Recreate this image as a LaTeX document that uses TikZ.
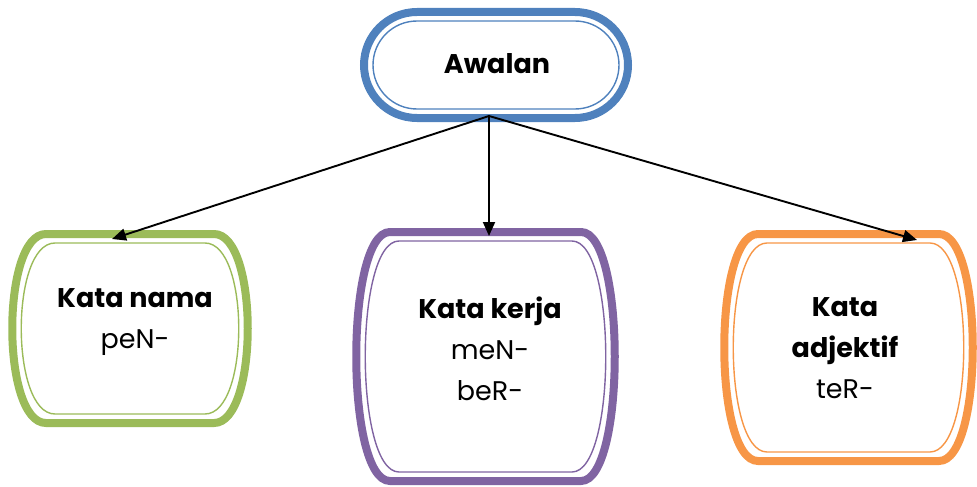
\documentclass[tikz,border=0pt]{standalone}
\usepackage{fontspec}
\setmainfont{Poppins}
\usetikzlibrary{arrows.meta}
\definecolor{cblue}{HTML}{4F81BD}
\definecolor{cgreen}{HTML}{9BBB59}
\definecolor{cpurple}{HTML}{8064A2}
\definecolor{corange}{HTML}{F79646}
\newcommand\barrelpath[4]{(#1+34,#2) -- (#3-34,#2) .. controls (#3+11,#2) and (#3+11,#4) .. (#3-34,#4) -- (#1+34,#4) .. controls (#1-11,#4) and (#1-11,#2) .. cycle}
\newcommand\barrelbox[5]{%
  \draw[line width=8pt,#5] \barrelpath{#1}{#2}{#3}{#4};
  \draw[line width=1.4pt,#5] \barrelpath{#1+9}{#2+9}{#3-9}{#4-9};}
\tikzset{
  lbl/.style={align=center,inner sep=0pt,font=\fontsize{27}{41}\selectfont},
  conn/.style={line width=1.9pt,-{Triangle[length=14pt,width=12pt]}}
}
\begin{document}
\begin{tikzpicture}[x=1pt,y=-1pt]
\useasboundingbox (0,0) rectangle (977,487);
% top stadium
\draw[line width=8pt,cblue,rounded corners=53pt] (364,12) rectangle (628,118);
\draw[line width=1.4pt,cblue,rounded corners=44pt] (373,21) rectangle (619,109);
\node[lbl] (awalan) at (497,64) {\bfseries Awalan};
% bottom boxes
\barrelbox{12}{234}{248}{423}{cgreen}
\barrelbox{356}{232}{615}{481}{cpurple}
\barrelbox{724}{234}{973}{461}{corange}
\node[lbl] (nama) at (135,322) {\bfseries Kata nama\\peN-};
\node[lbl] (kerja) at (490,349) {\bfseries Kata kerja\\meN-\\beR-};
\node[lbl] (adj) at (845,348) {\bfseries Kata\\\bfseries adjektif\\teR-};
% connector ends
\coordinate (src) at (489,116);
\coordinate (tl) at (112,239);
\coordinate (tm) at (489,236);
\coordinate (tr) at (917,240);
\draw[conn] (src) -- (tl);
\draw[conn] (src) -- (tm);
\draw[conn] (src) -- (tr);
\end{tikzpicture}
\end{document}
